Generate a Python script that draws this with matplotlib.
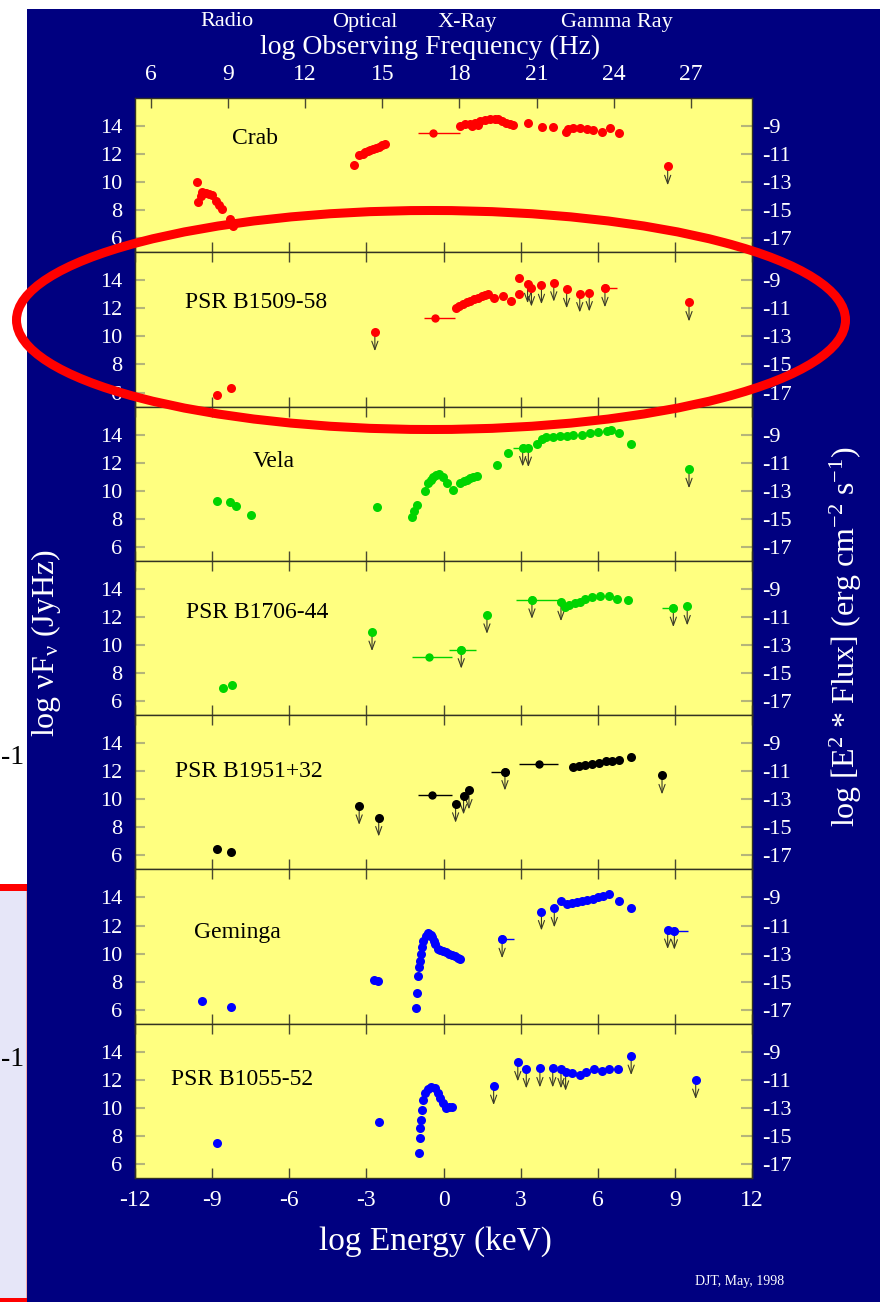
import matplotlib
matplotlib.use("Agg")
import matplotlib.pyplot as plt
from matplotlib import patches

plt.rcParams['font.family'] = ['Liberation Serif', 'DejaVu Serif']
plt.rcParams['mathtext.fontset'] = 'custom'
plt.rcParams['mathtext.rm'] = 'Liberation Serif'
plt.rcParams['mathtext.it'] = 'Liberation Serif:italic'
plt.rcParams['mathtext.default'] = 'regular'
plt.rcParams['axes.unicode_minus'] = False

# ----- data: log Energy (keV) vs log nuF_nu (Jy Hz) -----
# Crab
crab_x = [-9.57, -9.55, -9.45, -9.39, -9.25, -9.13, -9.0, -8.85, -8.72, -8.63, -8.3, -8.19,
          -3.5, -3.28, -3.15, -3.06, -2.95, -2.85, -2.75, -2.63, -2.5, -2.41, -2.28,
          0.64, 0.84, 1.03, 1.1, 1.22, 1.34, 1.42, 1.61, 1.81, 2.0, 2.13, 2.27, 2.44, 2.6, 2.72,
          3.28, 3.82, 4.27, 4.76, 4.85, 5.05, 5.31, 5.57, 5.83, 6.15, 6.48, 6.84]
crab_y = [10.0, 8.56, 9.0, 9.28, 9.2, 9.16, 9.05, 8.68, 8.4, 8.08, 7.37, 6.85,
          11.2, 11.92, 12.0, 12.15, 12.2, 12.28, 12.35, 12.4, 12.5, 12.63, 12.75,
          14.0, 14.14, 14.17, 14.0, 14.24, 14.05, 14.38, 14.43, 14.48, 14.52, 14.48, 14.38, 14.24, 14.14, 14.07,
          14.24, 13.95, 13.9, 13.6, 13.76, 13.83, 13.83, 13.76, 13.71, 13.55, 13.83, 13.52]
crab_bar_x, crab_bar_y, crab_bar_lo, crab_bar_hi = [-0.42], [13.48], [-1.0], [0.64]
crab_ul_x, crab_ul_y = [8.72], [11.13]

# PSR B1509-58
b1509_x = [-8.8, -8.28, 0.47, 0.6, 0.75, 0.9, 1.05, 1.2, 1.35, 1.5, 1.62, 1.74, 1.96, 2.33, 2.61, 2.94, 2.94]
b1509_y = [5.81, 6.35, 12.06, 12.15, 12.3, 12.42, 12.55, 12.65, 12.75, 12.85, 12.93, 13.0, 12.77, 12.89, 12.54, 13.06, 14.14]
b1509_bar_x, b1509_bar_y, b1509_bar_lo, b1509_bar_hi = [-0.34, 6.28], [11.29, 13.43], [-0.77, 6.28], [0.43, 6.75]
b1509_ul_x = [-2.67, 3.27, 3.42, 3.81, 4.29, 4.79, 5.3, 5.67, 6.28, 9.55]
b1509_ul_y = [10.3, 13.72, 13.48, 13.65, 13.83, 13.36, 13.06, 13.13, 13.43, 12.42]

# Vela
vela_x = [-8.8, -8.3, -8.08, -7.49, -2.58,
          -1.24, -1.15, -1.04, -0.72, -0.59, -0.48, -0.4, -0.28, -0.16, -0.01, 0.12, 0.36,
          0.64, 0.78, 0.9, 1.02, 1.13, 1.31, 2.07, 2.52,
          3.65, 3.82, 4.0, 4.27, 4.53, 4.79, 5.05, 5.37, 5.7, 6.02, 6.35, 6.5, 6.83, 7.28]
vela_y = [9.29, 9.18, 8.94, 8.24, 8.87,
          8.11, 8.54, 8.96, 10.0, 10.55, 10.78, 10.95, 11.1, 11.18, 10.95, 10.55, 10.08,
          10.55, 10.68, 10.79, 10.88, 10.95, 11.02, 11.85, 12.67,
          13.31, 13.7, 13.8, 13.86, 13.88, 13.9, 13.95, 14.0, 14.09, 14.18, 14.26, 14.3, 14.1, 13.33]
vela_bar_x, vela_bar_y, vela_bar_lo, vela_bar_hi = [3.08], [13.08], [2.7], [3.08]
vela_ul_x, vela_ul_y = [3.08, 3.3, 9.55], [13.08, 13.04, 11.53]

# PSR B1706-44
b1706_x = [-8.59, -8.24, 4.73, 4.9, 5.12, 5.3, 5.5, 5.77, 6.1, 6.43, 6.76, 7.19]
b1706_y = [6.97, 7.14, 12.7, 12.85, 12.98, 13.1, 13.25, 13.41, 13.53, 13.46, 13.29, 13.24]
b1706_bar_x = [-0.55, 0.69, 3.44, 8.94]
b1706_bar_y = [9.15, 9.67, 13.22, 12.63]
b1706_bar_lo = [-1.21, 0.21, 2.83, 8.5]
b1706_bar_hi = [0.32, 1.26, 4.47, 8.94]
b1706_ul_x = [-2.78, 0.69, 1.69, 3.44, 4.57, 8.94, 9.48]
b1706_ul_y = [10.92, 9.67, 12.15, 13.22, 13.05, 12.63, 12.75]

# PSR B1951+32
b1951_x = [-8.8, -8.28, 5.05, 5.27, 5.49, 5.77, 6.05, 6.32, 6.55, 6.82, 7.3]
b1951_y = [6.47, 6.21, 12.29, 12.4, 12.47, 12.54, 12.61, 12.7, 12.74, 12.81, 13.05]
b1951_bar_x, b1951_bar_y = [-0.44, 3.7, 2.39], [10.32, 12.53, 11.98]
b1951_bar_lo, b1951_bar_hi = [-0.99, 2.94, 1.85], [0.32, 4.47, 2.39]
b1951_ul_x = [-3.28, -2.52, 0.47, 0.78, 0.99, 2.39, 8.5]
b1951_ul_y = [9.53, 8.7, 9.68, 10.27, 10.63, 11.98, 11.7]

# Geminga
gem_x = [-9.39, -2.7, -2.55,
         -1.06, -1.03, -0.99, -0.97, -0.93, -0.89, -0.85, -0.8, -0.7, -0.6, -0.55, -0.48, -0.44,
         -0.38, -0.34, -0.23, -0.12, -0.01, 0.1, 0.21, 0.32, 0.43, 0.55, 0.65,
         4.57, 4.79, 5.0, 5.2, 5.4, 5.6, 5.8, 6.0, 6.2, 6.43, 6.82, 7.3]
gem_y = [6.62, 8.1, 8.05,
         6.14, 7.2, 8.37, 9.03, 9.5, 9.98, 10.45, 10.92, 11.28, 11.44, 11.4, 11.3, 11.16,
         10.9, 10.69, 10.33, 10.25, 10.17, 10.08, 9.98, 9.9, 9.8, 9.72, 9.62,
         13.76, 13.53, 13.58, 13.65, 13.72, 13.82, 13.9, 14.0, 14.1, 14.24, 13.76, 13.22]
gem_bar_x, gem_bar_y, gem_bar_lo, gem_bar_hi = [2.28, 8.98], [11.02, 11.63], [2.28, 8.98], [2.75, 9.5]
gem_ul_x = [-8.28, 2.28, 3.81, 4.31, 8.72, 8.98]
gem_ul_y = [6.19, 11.02, 13.0, 13.22, 11.68, 11.63]

# PSR B1055-52
b1055_x = [-8.8, -2.5,
           -0.95, -0.93, -0.9, -0.86, -0.82, -0.78, -0.72, -0.6, -0.49, -0.34, -0.23, -0.12,
           -0.01, 0.1, 0.2, 0.32,
           5.01, 5.3, 5.56, 5.84, 6.15, 6.43, 6.8]
b1055_y = [7.52, 9.0,
           6.8, 7.82, 8.54, 9.13, 9.84, 10.56, 11.08, 11.35, 11.46, 11.39, 11.03, 10.67,
           10.32, 9.96, 10.05, 10.08,
           12.46, 12.34, 12.53, 12.74, 12.62, 12.76, 12.74]
b1055_bar_x, b1055_bar_y, b1055_bar_lo, b1055_bar_hi = [], [], [], []
b1055_ul_x = [1.95, 2.89, 3.22, 3.75, 4.25, 4.57, 4.75, 7.3, 9.81]
b1055_ul_y = [11.55, 13.24, 12.74, 12.81, 12.81, 12.74, 12.57, 13.69, 11.98]

names = ['Crab', 'PSR B1509-58', 'Vela', 'PSR B1706-44', 'PSR B1951+32', 'Geminga', 'PSR B1055-52']
name_x = [-7.33, -10.05, -7.43, -10.0, -10.44, -9.72, -10.6]
name_y = [13.1, 12.41, 12.09, 12.34, 11.98, 11.52, 11.99]
name_ha = ['center', 'left', 'left', 'left', 'left', 'left', 'left']
colors = ['#ff0000', '#ff0000', '#00d400', '#00d400', '#000000', '#0000ff', '#0000ff']

energy_ticks = [-12, -9, -6, -3, 0, 3, 6, 9, 12]
freq_ticks = [6, 9, 12, 15, 18, 21, 24, 27]
left_ticks = [6, 8, 10, 12, 14]
right_ticks = [-9, -11, -13, -15, -17]
band_names = ['Radio', 'Optical', 'X-Ray', 'Gamma Ray']
band_px = [227, 365, 467, 617]

panels = [
    (crab_x, crab_y, crab_bar_x, crab_bar_y, crab_bar_lo, crab_bar_hi, crab_ul_x, crab_ul_y),
    (b1509_x, b1509_y, b1509_bar_x, b1509_bar_y, b1509_bar_lo, b1509_bar_hi, b1509_ul_x, b1509_ul_y),
    (vela_x, vela_y, vela_bar_x, vela_bar_y, vela_bar_lo, vela_bar_hi, vela_ul_x, vela_ul_y),
    (b1706_x, b1706_y, b1706_bar_x, b1706_bar_y, b1706_bar_lo, b1706_bar_hi, b1706_ul_x, b1706_ul_y),
    (b1951_x, b1951_y, b1951_bar_x, b1951_bar_y, b1951_bar_lo, b1951_bar_hi, b1951_ul_x, b1951_ul_y),
    (gem_x, gem_y, gem_bar_x, gem_bar_y, gem_bar_lo, gem_bar_hi, gem_ul_x, gem_ul_y),
    (b1055_x, b1055_y, b1055_bar_x, b1055_bar_y, b1055_bar_lo, b1055_bar_hi, b1055_ul_x, b1055_ul_y),
]

W, H = 880, 1302
NAVY = '#000080'
YELLOW = '#ffff80'
TICKC = '#4a4a30'
YTICKC = '#b5b57a'


def fx(px):
    return px / W


def fy(py):
    return 1 - py / H


fig = plt.figure(figsize=(W / 100, H / 100), dpi=100, facecolor='white')

# slide background bits
fig.add_artist(patches.Rectangle((fx(27), 0), 1 - fx(27), fy(9), transform=fig.transFigure,
                                 facecolor=NAVY, edgecolor='none', zorder=-5))
fig.add_artist(patches.Rectangle((0, 0), fx(26), fy(888), transform=fig.transFigure,
                                 facecolor='#e6e6f8', edgecolor='none', zorder=-5))
fig.add_artist(patches.Rectangle((fx(25.5), 0), 1 / W, fy(888), transform=fig.transFigure,
                                 facecolor='#f0b0b0', edgecolor='none', zorder=-4))
fig.add_artist(patches.Rectangle((0, fy(891)), fx(27), 7 / H, transform=fig.transFigure,
                                 facecolor='#ff0000', edgecolor='none', zorder=-4))
fig.add_artist(patches.Rectangle((0, 0), fx(27), 4 / H, transform=fig.transFigure,
                                 facecolor='#ff0000', edgecolor='none', zorder=-4))
for py in [757, 1060]:
    fig.text(fx(24), fy(py), '-1', ha='right', va='center', fontsize=20, color='black')

top, bottom = 98, 1178
ph = (bottom - top) / 7
ax_l, ax_w = fx(135), (752 - 135) / W

for i, (px, py_, bx, by, blo, bhi, ux, uy) in enumerate(panels):
    y0 = top + (i + 1) * ph
    ax = fig.add_axes([ax_l, fy(y0), ax_w, ph / H])
    ax.set_facecolor(YELLOW)
    ax.set_xlim(-12, 12)
    ax.set_ylim(5, 16)
    c = colors[i]

    if bx:
        ax.errorbar(bx, by, xerr=[[x - lo for x, lo in zip(bx, blo)], [hi - x for x, hi in zip(bx, bhi)]],
                    fmt='o', color=c, ms=6, mew=0, elinewidth=1.0, capsize=0, zorder=3)
    ax.plot(px, py_, 'o', color=c, ms=6.5, mew=0, zorder=3)
    ax.plot(ux, uy, 'o', color=c, ms=6.5, mew=0, zorder=3)
    for x, y in zip(ux, uy):
        ax.annotate('', xy=(x, y - 1.35), xytext=(x, y),
                    arrowprops=dict(arrowstyle='->,head_length=0.6,head_width=0.22',
                                    color='#3a3a28', lw=0.8, shrinkA=0, shrinkB=0), zorder=2)

    ax.text(name_x[i], name_y[i], names[i], ha=name_ha[i], va='center', fontsize=17, color='black')

    for s in ax.spines.values():
        s.set_color('#333322')
        s.set_linewidth(1.0)

    ax.set_xticks(energy_ticks)
    ax.tick_params(axis='x', direction='in', length=7, width=1, color=TICKC,
                   top=(i != 0), bottom=True, labelbottom=(i == 6), labelsize=17,
                   labelcolor='white', pad=9)
    ax.set_yticks(left_ticks)
    ax.tick_params(axis='y', direction='in', length=7, width=1.5, color=YTICKC,
                   left=True, right=False, labelsize=16, labelcolor='white', pad=9)

    sec = ax.secondary_yaxis('right', functions=(lambda y: y - 23, lambda y: y + 23))
    sec.set_yticks(right_ticks)
    sec.tick_params(direction='in', length=8, width=1.5, color=YTICKC,
                    labelsize=16, labelcolor='white', pad=7)
    sec.spines['right'].set_visible(False)

    if i == 0:
        topax = ax.secondary_xaxis('top', functions=(lambda e: e + 17.38, lambda f: f - 17.38))
        topax.set_xticks(freq_ticks)
        topax.tick_params(direction='in', length=7, width=1, color=TICKC,
                          labelsize=17, labelcolor='white', pad=9)
        topax.spines['top'].set_visible(False)

# axis titles and headings
for name, bx in zip(band_names, band_px):
    fig.text(fx(bx), fy(22), name, ha='center', va='center', fontsize=16, color='white')
fig.text(fx(430), fy(47), 'log Observing Frequency (Hz)', ha='center', va='center',
         fontsize=20, color='white')
fig.text(fx(435), fy(1242), 'log Energy (keV)', ha='center', va='center', fontsize=24, color='white')
fig.text(fx(46), fy(643), 'log νF$_{ν}$ (JyHz)', rotation=90, ha='center', va='center',
         fontsize=23, color='white')
fig.text(fx(846), fy(637), 'log [E$^{2}$ * Flux] (erg cm$^{-2}$ s$^{-1}$)', rotation=90,
         ha='center', va='center', fontsize=23, color='white')
fig.text(fx(740), fy(1281), 'DJT, May, 1998', ha='center', va='center', fontsize=10, color='white')

# red highlight ring around PSR B1509-58
fig.add_artist(patches.Ellipse((fx(431), fy(320)), 829 / W, 219 / H, transform=fig.transFigure,
                               fill=False, edgecolor='#ff0000', lw=6.5, zorder=10))

fig.savefig('out.png', dpi=100, facecolor='white')
